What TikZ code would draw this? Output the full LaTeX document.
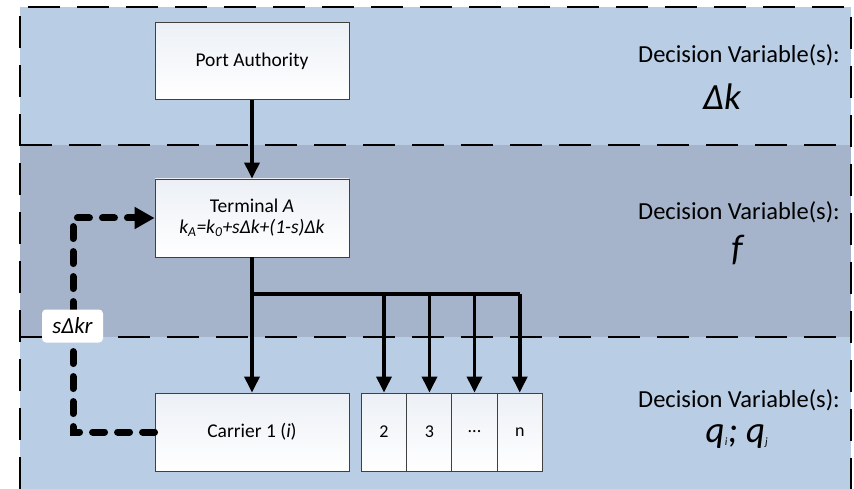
\documentclass[tikz,border=0pt]{standalone}
\usepackage{fontspec}
\setmainfont{Carlito}
\usetikzlibrary{arrows.meta}
\definecolor{bandA}{RGB}{185,205,229}
\definecolor{bandB}{RGB}{166,180,203}
\definecolor{boxline}{RGB}{64,64,64}
\definecolor{boxtop}{RGB}{236,240,246}
\tikzset{
  outerdash/.style={line width=2pt, dash pattern=on 32pt off 17pt},
  stagebox/.style={draw=boxline, line width=0.9pt, top color=boxtop, bottom color=white,
    minimum width=194pt, minimum height=77pt, inner sep=0pt, align=center,
    font=\fontsize{19.5}{23}\selectfont},
  smallbox/.style={draw=boxline, line width=0.9pt, top color=boxtop, bottom color=white,
    minimum width=45.25pt, minimum height=78pt, inner sep=0pt,
    font=\fontsize{18}{22}\selectfont},
  conn/.style={line width=3.5pt, -{Triangle[length=16pt,width=15pt]}},
  busline/.style={line width=3.5pt},
  fb/.style={line width=7pt, line cap=round, dash pattern=on 12pt off 13pt,
    -{Triangle[length=20pt,width=21pt]}},
  fblabel/.style={fill=white, rounded corners=4pt, minimum width=61pt, minimum height=33pt,
    inner sep=0pt, font=\fontsize{23}{26}\selectfont\itshape},
  dvtext/.style={font=\fontsize{24.5}{28}\selectfont},
  dvvar/.style={font=\fontsize{37}{40}\selectfont\itshape},
}
\begin{document}
\begin{tikzpicture}[x=1pt,y=-1pt]
\useasboundingbox (0,0) rectangle (854,489);
% bands
\fill[bandA] (20,7) rectangle (851,145);
\fill[bandB] (20,145) rectangle (851,337);
\fill[bandA] (20,337) rectangle (851,489);
\draw[outerdash] (20,489) -- (20,7) -- (851,7) -- (851,489);
\draw[outerdash] (20,145) -- (851,145);
\draw[outerdash] (20,337) -- (851,337);
% right texts
\node[dvtext] (dv1) at (739,55) {Decision Variable(s):};
\node[dvvar] (v1) at (722,97) {Δk};
\node[dvtext] (dv2) at (739,212) {Decision Variable(s):};
\node[dvvar] (v2) at (737,250) {f};
\node[dvtext] (dv3) at (739,400) {Decision Variable(s):};
\node[dvvar] (v3) at (737,437) {q{\fontsize{16}{16}\selectfont\textsubscript{i}}; q{\fontsize{16}{16}\selectfont\textsubscript{j}}};
% boxes
\node[stagebox] (pa) at (252,61) {Port Authority};
\node[stagebox, minimum height=78pt] (ta) at (252,218) {Terminal \textit{A}\\[-2pt]\textit{k\textsubscript{A}=k\textsubscript{0}+sΔk+(1-s)Δk}};
\node[stagebox, minimum height=78pt] (c1) at (252,432) {Carrier 1 (\textit{i})};
\node[smallbox] (b2) at (384,432) {2};
\node[smallbox] (b3) at (429.5,432) {3};
\node[smallbox] (b4) at (474.5,432) {...};
\node[smallbox] (b5) at (519.75,432) {n};
% connectors
\draw[conn] (pa) -- (ta);
\draw[conn] (ta) -- (c1);
\coordinate (bus) at (252,294);
\draw[busline] (bus) -- (bus -| b5);
\draw[conn] (bus -| b2) -- (b2);
\draw[conn] (bus -| b3) -- (b3);
\draw[conn] (bus -| b4) -- (b4);
\draw[conn] (bus -| b5) -- (b5.north);
% feedback
\coordinate (fbx) at (73,300);
\draw[fb] (c1.west) -- (c1.west -| fbx) -- (ta.west -| fbx) -- (ta.west);
\node[fblabel] (skr) at (72.5,326) {sΔkr};
\end{tikzpicture}
\end{document}
